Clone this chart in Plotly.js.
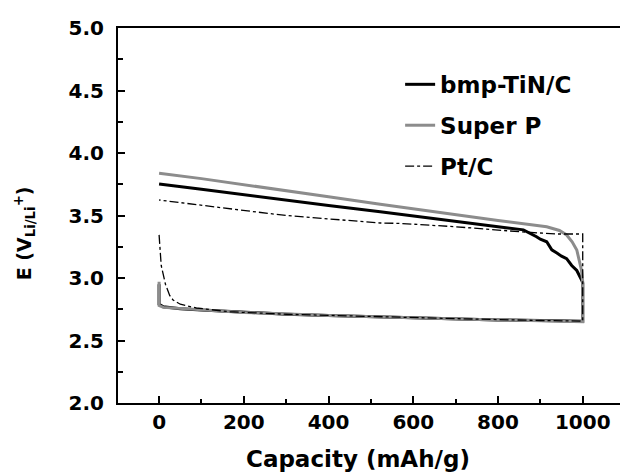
<!DOCTYPE html>
<html>
<head>
<meta charset="utf-8">
<script src="https://cdn.plot.ly/plotly-3.0.1.min.js"></script>
<style>html,body{margin:0;padding:0;background:#fff;}#chart{width:620px;height:476px;}</style>
</head>
<body>
<div id="chart"></div>
<script>
// bmp-TiN/C: discharge (0 -> 1000) then charge traced back (1000 -> 0)
const tinX = [0, 0, 10, 50, 100, 200, 300, 400, 500, 600, 700, 800, 900, 1000,
              1000, 998, 986, 974, 962, 950, 939, 927, 915, 900, 891, 875, 860, 800, 700, 600, 522, 400, 300, 191, 100, 0];
const tinY = [2.95, 2.79, 2.77, 2.755, 2.745, 2.725, 2.71, 2.70, 2.69, 2.68, 2.675, 2.665, 2.66, 2.655,
              2.96, 2.98, 3.06, 3.10, 3.155, 3.175, 3.20, 3.225, 3.29, 3.31, 3.33, 3.36, 3.385, 3.41, 3.455, 3.50, 3.53, 3.58, 3.625, 3.672, 3.71, 3.752];

// Super P
const spX = [0, 0, 10, 100, 200, 400, 600, 800, 1000,
             1000, 997, 986, 975, 962, 945, 915, 800, 700, 600, 522, 400, 300, 191, 100, 0];
const spY = [2.97, 2.78, 2.765, 2.745, 2.725, 2.70, 2.68, 2.665, 2.65,
             2.97, 3.064, 3.224, 3.29, 3.344, 3.38, 3.41, 3.46, 3.505, 3.55, 3.59, 3.65, 3.70, 3.752, 3.795, 3.838];

// Pt/C
const ptX = [0, 5, 15, 25, 33, 50, 88, 167, 300, 500, 700, 900, 1000,
             1000, 940, 900, 852, 700, 568, 522, 400, 300, 191, 100, 0];
const ptY = [3.345, 3.10, 2.95, 2.86, 2.824, 2.79, 2.76, 2.73, 2.71, 2.69, 2.675, 2.66, 2.655,
             3.352, 3.352, 3.36, 3.37, 3.41, 3.437, 3.44, 3.47, 3.50, 3.544, 3.58, 3.624];

const seriesNames = ['bmp-TiN/C', 'Super P', 'Pt/C'];
const xTickVals = [0, 200, 400, 600, 800, 1000];
const yTickVals = [2.0, 2.5, 3.0, 3.5, 4.0, 4.5, 5.0];
const yTickText = ['2.0', '2.5', '3.0', '3.5', '4.0', '4.5', '5.0'];

const FONT = 'DejaVu Sans';
const traces = [
  {x: tinX, y: tinY, name: seriesNames[0], legendgroup: 'a', mode: 'lines', line: {color: '#000000', width: 3}},
  {x: spX, y: spY, name: seriesNames[1], legendgroup: 'b', mode: 'lines', line: {color: '#8c8c8c', width: 3}},
  {x: ptX, y: ptY, name: seriesNames[2], legendgroup: 'c', mode: 'lines', line: {color: '#000000', width: 1.3, dash: 'dashdot'}}
];

const layout = {
  width: 620, height: 476,
  margin: {l: 118, r: 0, t: 28, b: 73},
  paper_bgcolor: '#ffffff', plot_bgcolor: '#ffffff',
  font: {family: FONT, color: '#000', size: 20, weight: 700},
  showlegend: true,
  legend: {x: 0.562, y: 0.907, xanchor: 'left', yanchor: 'top', bgcolor: 'rgba(0,0,0,0)',
           font: {family: FONT, size: 23, weight: 700, color: '#000'}, tracegroupgap: 8, traceorder: 'grouped'},
  xaxis: {
    range: [-97, 1088], showgrid: false, zeroline: false,
    showline: true, linecolor: '#000', linewidth: 2, mirror: true,
    tickmode: 'array', tickvals: xTickVals, ticks: 'inside', ticklen: 7, tickwidth: 2, tickcolor: '#000',
    minor: {dtick: 100, tick0: 0, ticks: 'inside', ticklen: 4, tickwidth: 2, tickcolor: '#000'},
    tickfont: {family: FONT, size: 20, weight: 700, color: '#000'}, ticklabelstandoff: 0
  },
  yaxis: {
    range: [2, 5], showgrid: false, zeroline: false,
    showline: true, linecolor: '#000', linewidth: 2, mirror: false,
    tickmode: 'array', tickvals: yTickVals, ticktext: yTickText, ticks: 'inside', ticklen: 7, tickwidth: 2, tickcolor: '#000',
    minor: {dtick: 0.25, tick0: 2, ticks: 'inside', ticklen: 5, tickwidth: 2, tickcolor: '#000'},
    tickfont: {family: FONT, size: 20, weight: 700, color: '#000'}, ticklabelstandoff: 8
  },
  annotations: [
    {text: 'Capacity (mAh/g)', xref: 'paper', yref: 'paper', x: 0.478, y: -0.15, xanchor: 'center', yanchor: 'middle',
     showarrow: false, font: {family: FONT, size: 23, weight: 700, color: '#000'}},
    {text: 'E (V<sub>Li/Li</sub><sup>+</sup>)', xref: 'paper', yref: 'paper', x: -0.187, y: 0.453, xanchor: 'center', yanchor: 'middle',
     textangle: -90, showarrow: false, font: {family: FONT, size: 19, weight: 700, color: '#000'}}
  ]
};

Plotly.newPlot('chart', traces, layout, {displayModeBar: false, staticPlot: true});
</script>
</body>
</html>
